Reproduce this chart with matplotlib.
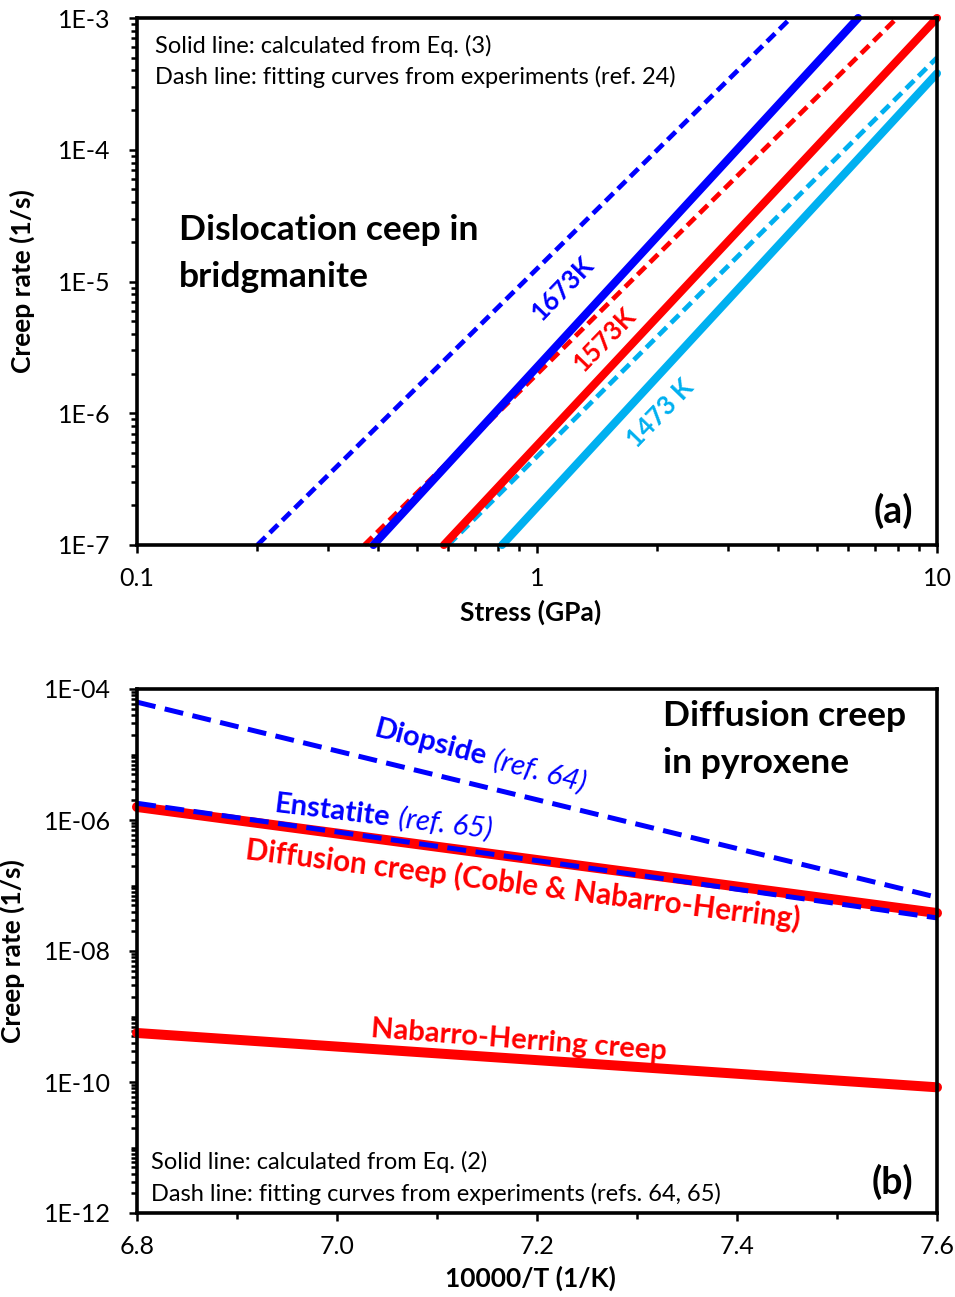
import matplotlib
matplotlib.use("Agg")
import matplotlib.pyplot as plt
import numpy as np
from matplotlib.ticker import LogLocator, FixedLocator, NullFormatter, MultipleLocator
from matplotlib.transforms import offset_copy

plt.rcParams['font.family'] = ['Lato', 'DejaVu Sans']

# ---------------- Data: panel (a) dislocation creep in bridgmanite ----------------
stress_1673_calc = [0.39, 6.35]
rate_1673_calc = [1e-7, 1e-3]
stress_1673_exp = [0.20, 4.31]
rate_1673_exp = [1e-7, 1e-3]
stress_1573_calc = [0.585, 10.0]
rate_1573_calc = [1e-7, 1e-3]
stress_1573_exp = [0.37, 7.94]
rate_1573_exp = [1e-7, 1e-3]
stress_1473_calc = [0.818, 10.0]
rate_1473_calc = [1e-7, 3.8e-4]
stress_1473_exp = [0.60, 10.0]
rate_1473_exp = [1e-7, 5.0e-4]

# ---------------- Data: panel (b) diffusion creep in pyroxene ----------------
inv_T = [6.8, 7.6]
rate_diopside = [6.3e-5, 6.6e-8]
rate_enstatite = [1.8e-6, 3.2e-8]
rate_diffusion_calc = [1.58e-6, 3.8e-8]
rate_nh_calc = [5.6e-10, 8.3e-11]

x_ticks_a = [0.1, 1, 10]
x_ticklabels_a = ['0.1', '1', '10']
y_ticks_a = [1e-7, 1e-6, 1e-5, 1e-4, 1e-3]
y_ticklabels_a = ['1E-7', '1E-6', '1E-5', '1E-4', '1E-3']
x_ticks_b = [6.8, 7.0, 7.2, 7.4, 7.6]
x_ticklabels_b = ['6.8', '7.0', '7.2', '7.4', '7.6']
y_ticks_b = [1e-12, 1e-10, 1e-8, 1e-6, 1e-4]
y_ticklabels_b = ['1E-12', '1E-10', '1E-08', '1E-06', '1E-04']

BLUE = '#0000FF'
RED = '#FF0000'
CYAN = '#00B0F0'

W, H = 955, 1297
fig = plt.figure(figsize=(W / 100, H / 100), dpi=100)

def pos(l, t, r, b):
    return [l / W, 1 - b / H, (r - l) / W, (b - t) / H]

ax1 = fig.add_axes(pos(137, 18, 937, 545))
ax2 = fig.add_axes(pos(137, 689, 937, 1213))

for ax in (ax1, ax2):
    for s in ax.spines.values():
        s.set_linewidth(2.6)
    ax.tick_params(which='both', direction='out', width=1.8, labelsize=18)
    ax.tick_params(which='major', length=6)
    ax.tick_params(which='minor', length=4)
    ax.tick_params(axis='y', pad=13)
    ax.tick_params(axis='x', pad=10)
    ax.tick_params(top=False, right=False)

# ---------- Panel (a) ----------
ax1.set_xscale('log')
ax1.set_yscale('log')
ax1.set_xlim(0.1, 10)
ax1.set_ylim(1e-7, 1e-3)

lw_s, lw_d = 5.8, 3.4
dash_a = (2.4, 1.3)
ax1.plot(stress_1673_exp, rate_1673_exp, color=BLUE, lw=lw_d, ls=(0, dash_a), clip_on=False)
ax1.plot(stress_1573_exp, rate_1573_exp, color=RED, lw=lw_d, ls=(0, dash_a), clip_on=False)
ax1.plot(stress_1473_exp, rate_1473_exp, color=CYAN, lw=lw_d, ls=(0, dash_a), clip_on=False)
ax1.plot(stress_1473_calc, rate_1473_calc, color=CYAN, lw=lw_s, solid_capstyle='round', clip_on=False)
ax1.plot(stress_1573_calc, rate_1573_calc, color=RED, lw=lw_s, solid_capstyle='round', clip_on=False)
ax1.plot(stress_1673_calc, rate_1673_calc, color=BLUE, lw=lw_s, solid_capstyle='round', clip_on=False)

ax1.xaxis.set_major_locator(FixedLocator(x_ticks_a))
ax1.set_xticklabels(x_ticklabels_a)
ax1.xaxis.set_minor_locator(LogLocator(base=10, subs=np.arange(2, 10)))
ax1.xaxis.set_minor_formatter(NullFormatter())
ax1.yaxis.set_major_locator(FixedLocator(y_ticks_a))
ax1.set_yticklabels(y_ticklabels_a)
ax1.yaxis.set_minor_locator(LogLocator(base=10, subs=np.arange(2, 10)))
ax1.yaxis.set_minor_formatter(NullFormatter())

ax1.set_xlabel('Stress (GPa)', fontsize=19, fontweight='bold', va='center')
ax1.xaxis.set_label_coords(0.4925, -(612 - 545) / 527)
ax1.set_ylabel('Creep rate (1/s)', fontsize=19, fontweight='bold', va='center')
ax1.yaxis.set_label_coords((22 - 137) / 800, 0.5)

ax1.text(0.022, 0.947, 'Solid line: calculated from Eq. (3)', transform=ax1.transAxes,
         fontsize=17, va='center', ha='left')
ax1.text(0.022, 0.888, 'Dash line: fitting curves from experiments (ref. 24)', transform=ax1.transAxes,
         fontsize=17, va='center', ha='left')
ax1.text(0.052, 0.553, 'Dislocation ceep in\nbridgmanite', transform=ax1.transAxes,
         fontsize=25.5, fontweight='bold', va='center', ha='left', linespacing=1.6)
ax1.text(0.97, 0.065, '(a)', transform=ax1.transAxes, fontsize=27, fontweight='bold',
         ha='right', va='center')

def px_to_data(ax, px, py):
    disp = (px, H - py)
    return ax.transData.inverted().transform(disp)

fig.canvas.draw()
for txt, col, (px, py) in [('1673K', BLUE, (563, 289)), ('1573K', RED, (605, 340)),
                           ('1473 K', CYAN, (660, 413))]:
    x, y = px_to_data(ax1, px, py)
    ax1.text(x, y, txt, color=col, fontsize=18.5, fontweight='bold', rotation=46,
             rotation_mode='anchor', ha='center', va='center')

# ---------- Panel (b) ----------
ax2.set_yscale('log')
ax2.set_xlim(6.8, 7.6)
ax2.set_ylim(1e-12, 1e-4)

dash_b = (3.8, 1.9)
ax2.plot(inv_T, rate_diffusion_calc, color=RED, lw=7.2, solid_capstyle='round', clip_on=False)
ax2.plot(inv_T, rate_nh_calc, color=RED, lw=7.2, solid_capstyle='round', clip_on=False)
ax2.plot(inv_T, rate_diopside, color=BLUE, lw=3.6, ls=(0, dash_b), clip_on=False)
ax2.plot(inv_T, rate_enstatite, color=BLUE, lw=3.6, ls=(0, dash_b), clip_on=False)

ax2.xaxis.set_major_locator(FixedLocator(x_ticks_b))
ax2.set_xticklabels(x_ticklabels_b)
ax2.xaxis.set_minor_locator(MultipleLocator(0.1))
ax2.yaxis.set_major_locator(FixedLocator(y_ticks_b))
ax2.set_yticklabels(y_ticklabels_b)
ax2.yaxis.set_minor_locator(LogLocator(base=10, subs=np.arange(1, 10), numticks=30))
ax2.yaxis.set_minor_formatter(NullFormatter())

ax2.set_xlabel('10000/T (1/K)', fontsize=19, fontweight='bold', va='center')
ax2.xaxis.set_label_coords((530 - 137) / 800, -(1278 - 1213) / 524)
ax2.set_ylabel('Creep rate (1/s)', fontsize=19, fontweight='bold', va='center')
ax2.yaxis.set_label_coords((12 - 137) / 800, 0.5)

ax2.text(0.658, 0.9036, 'Diffusion creep\nin pyroxene', transform=ax2.transAxes,
         fontsize=25.5, fontweight='bold', va='center', ha='left', linespacing=1.6)
ax2.text(0.018, 0.097, 'Solid line: calculated from Eq. (2)', transform=ax2.transAxes,
         fontsize=17, va='center', ha='left')
ax2.text(0.018, 0.036, 'Dash line: fitting curves from experiments (refs. 64, 65)', transform=ax2.transAxes,
         fontsize=17, va='center', ha='left')
ax2.text(0.97, 0.06, '(b)', transform=ax2.transAxes, fontsize=27, fontweight='bold',
         ha='right', va='center')

fig.canvas.draw()
renderer = fig.canvas.get_renderer()

def text_width(s, **kw):
    t = fig.text(0, 0, s, **kw)
    w = t.get_window_extent(renderer).width
    t.remove()
    return w

def rich_text(ax, px, py, parts, rotation, color, fontsize):
    x, y = px_to_data(ax, px, py)
    th = np.deg2rad(rotation)
    off = 0.0
    for s, weight, style in parts:
        kw = dict(fontsize=fontsize, fontweight=weight, fontstyle=style)
        tr = offset_copy(ax.transData, fig=fig, x=off * np.cos(th), y=off * np.sin(th), units='dots')
        ax.text(x, y, s, transform=tr, color=color, rotation=rotation, rotation_mode='anchor',
                ha='left', va='baseline', clip_on=False, **kw)
        off += text_width(s, **kw) + 0.28 * fontsize * 100 / 72

rich_text(ax2, 373, 736, [('Diopside', 'bold', 'normal'), ('(ref. 64)', 'normal', 'italic')],
          -14.8, BLUE, 21)
rich_text(ax2, 274, 812, [('Enstatite', 'bold', 'normal'), ('(ref. 65)', 'normal', 'italic')],
          -7.0, BLUE, 21)
rich_text(ax2, 245, 859, [('Diffusion creep (Coble & Nabarro-Herring)', 'bold', 'normal')],
          -7.2, RED, 21.3)
rich_text(ax2, 370, 1037, [('Nabarro-Herring creep', 'bold', 'normal')],
          -4.4, RED, 21)

fig.savefig('out.png', dpi=100)
